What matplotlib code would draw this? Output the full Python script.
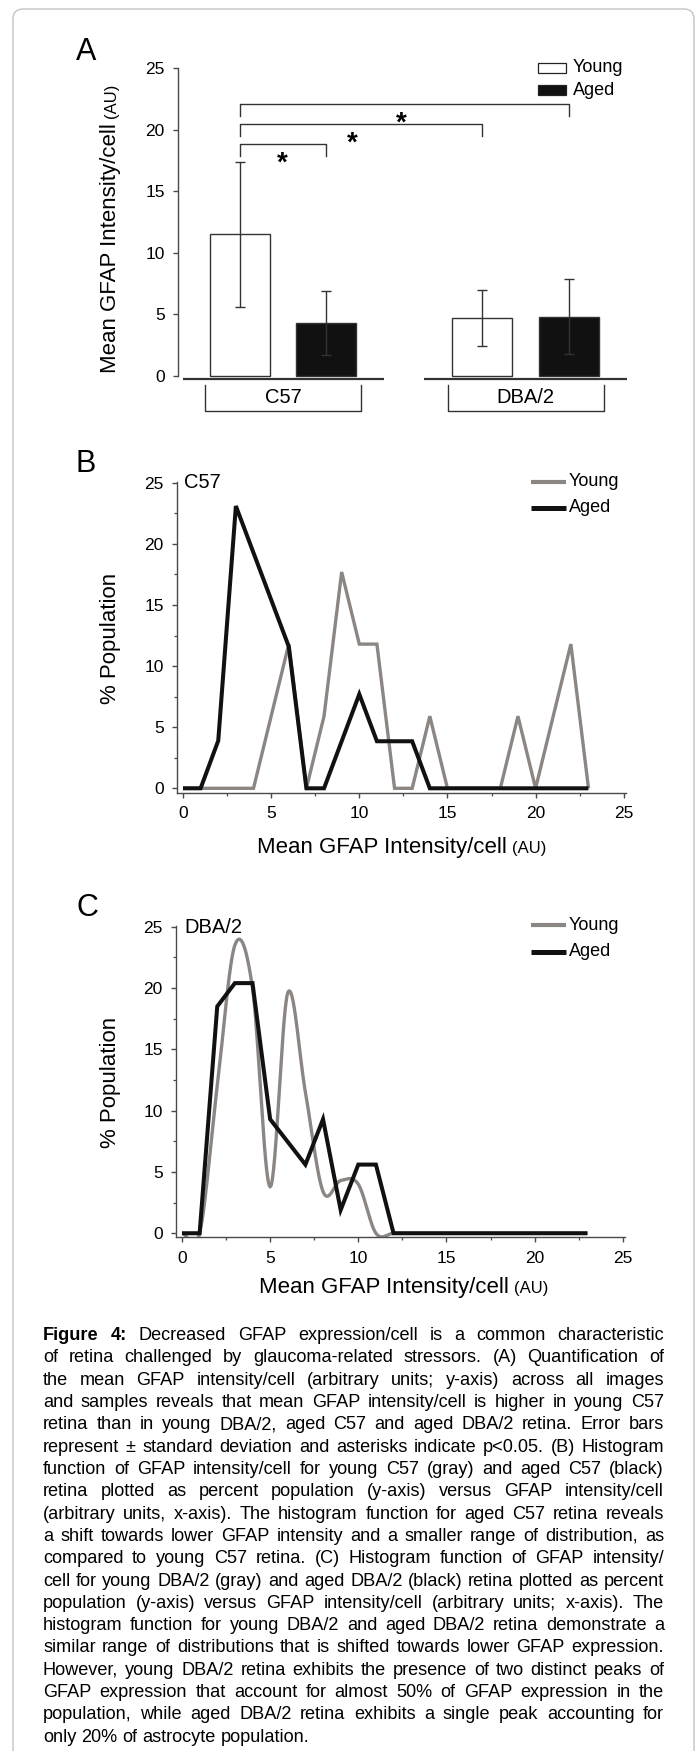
import numpy as np
import matplotlib
matplotlib.use('Agg')
import matplotlib.pyplot as plt
from matplotlib import font_manager
from matplotlib.patches import Rectangle, FancyBboxPatch
from matplotlib.lines import Line2D
from matplotlib.transforms import IdentityTransform

W, H = 695, 1751

# ---- panel A : mean GFAP intensity/cell ----
groups = ['C57', 'DBA/2']
ages = ['Young', 'Aged']
mean_gfap = [11.5, 4.25, 4.7, 4.8]      # young C57, aged C57, young DBA/2, aged DBA/2
sd_gfap = [5.9, 2.6, 2.3, 3.05]
sig_pairs = [(0, 1), (0, 2), (0, 3)]
sig_heights = [18.85, 20.5, 22.1]

# ---- panel B : C57 histogram ----
c57_young_x = [0, 4, 6, 7, 8, 9, 10, 11, 12, 13, 14, 15, 18, 19, 20, 22, 23]
c57_young_y = [0, 0, 11.8, 0, 5.9, 17.7, 11.8, 11.8, 0, 0, 5.9, 0, 0, 5.9, 0, 11.8, 0]
c57_aged_x = [0, 1, 2, 3, 6, 7, 8, 10, 11, 13, 14, 23]
c57_aged_y = [0, 0, 3.9, 23.1, 11.6, 0, 0, 7.7, 3.85, 3.85, 0, 0]

# ---- panel C : DBA/2 histogram ----
dba_young_x = [0, 1, 2, 3, 4, 5, 6, 7, 8, 9, 10, 11, 12, 13, 14, 15, 16, 17, 18, 19, 20, 21, 22, 23]
dba_young_y = [0, 0, 12, 23.5, 20, 3.8, 19.6, 11.5, 3.4, 4.3, 4.0, 0, 0, 0, 0, 0, 0, 0, 0, 0, 0, 0, 0, 0]
dba_aged_x = [0, 1, 2, 3, 4, 5, 7, 8, 9, 10, 11, 12, 23]
dba_aged_y = [0, 0, 18.5, 20.4, 20.4, 9.3, 5.6, 9.3, 1.9, 5.6, 5.6, 0, 0]

caption = [
    "Figure 4: Decreased GFAP expression/cell is a common characteristic",
    "of retina challenged by glaucoma-related stressors. (A) Quantification of",
    "the mean GFAP intensity/cell (arbitrary units; y-axis) across all images",
    "and samples reveals that mean GFAP intensity/cell is higher in young C57",
    "retina than in young DBA/2, aged C57 and aged DBA/2 retina. Error bars",
    "represent \u00b1 standard deviation and asterisks indicate p<0.05. (B) Histogram",
    "function of GFAP intensity/cell for young C57 (gray) and aged C57 (black)",
    "retina plotted as percent population (y-axis) versus GFAP intensity/cell",
    "(arbitrary units, x-axis). The histogram function for aged C57 retina reveals",
    "a shift towards lower GFAP intensity and a smaller range of distribution, as",
    "compared to young C57 retina. (C) Histogram function of GFAP intensity/",
    "cell for young DBA/2 (gray) and aged DBA/2 (black) retina plotted as percent",
    "population (y-axis) versus GFAP intensity/cell (arbitrary units; x-axis). The",
    "histogram function for young DBA/2 and aged DBA/2 retina demonstrate a",
    "similar range of distributions that is shifted towards lower GFAP expression.",
    "However, young DBA/2 retina exhibits the presence of two distinct peaks of",
    "GFAP expression that account for almost 50% of GFAP expression in the",
    "population, while aged DBA/2 retina exhibits a single peak accounting for",
    "only 20% of astrocyte population.",
]

GRAY = '#8c8683'
BLACK = '#111111'
AXC = '#4a4a4a'


def has_font(name):
    try:
        font_manager.findfont(name, fallback_to_default=False)
        return True
    except Exception:
        return False


MAIN_FONT = 'Liberation Sans' if has_font('Liberation Sans') else 'DejaVu Sans'
CAP_FONT = 'Liberation Sans Narrow' if has_font('Liberation Sans Narrow') else MAIN_FONT
plt.rcParams['font.family'] = [MAIN_FONT, 'DejaVu Sans']


def fx(x):
    return x / W


def fy(y):
    return 1 - y / H


def px_axes(left, top, right, bottom):
    return fig.add_axes([fx(left), fy(bottom), (right - left) / W, (bottom - top) / H])


def catmull(x, y, n=30):
    x = np.asarray(x, float)
    y = np.asarray(y, float)
    m = np.zeros_like(y)
    m[1:-1] = (y[2:] - y[:-2]) / 2
    m[0] = y[1] - y[0]
    m[-1] = y[-1] - y[-2]
    xs, ys = [], []
    t = np.linspace(0, 1, n, endpoint=False)
    for i in range(len(x) - 1):
        h00 = 2 * t**3 - 3 * t**2 + 1
        h10 = t**3 - 2 * t**2 + t
        h01 = -2 * t**3 + 3 * t**2
        h11 = t**3 - t**2
        xs.append(x[i] + t * (x[i + 1] - x[i]))
        ys.append(h00 * y[i] + h10 * m[i] + h01 * y[i + 1] + h11 * m[i + 1])
    xs.append([x[-1]])
    ys.append([y[-1]])
    return np.concatenate(xs), np.concatenate(ys)


fig = plt.figure(figsize=(W / 100, H / 100), dpi=100)
renderer = fig.canvas.get_renderer()

# outer frame
fig.add_artist(FancyBboxPatch((13, -40), 681, H - 9 + 40, boxstyle='round,pad=0,rounding_size=10',
                              transform=IdentityTransform(), facecolor='none', edgecolor='#c4c4c4', lw=1.0))

# panel letters
for lab, yb in [('A', 60), ('B', 472), ('C', 916)]:
    fig.text(fx(76), fy(yb), lab, fontsize=22, va='baseline', ha='left')


def label_with_au(x, y, main, rot):
    kw = dict(rotation=rot, rotation_mode='anchor', ha='left', va='baseline')
    t = fig.text(fx(x), fy(y), main, fontsize=16, **kw)
    bb = t.get_window_extent(renderer)
    if rot == 90:
        fig.text(fx(x), fy(y - bb.height - 5), '(AU)', fontsize=12, **kw)
    else:
        fig.text(fx(x + bb.width + 5), fy(y), '(AU)', fontsize=12, **kw)


# ================= panel A =================
bar_pos = [0, 1.42, 4.0, 5.44]
axA = px_axes(178, 68.3, 627, 379.4)
axA.set_xlim(-1.025, 6.397)
axA.set_ylim(-0.3, 25)
bar_colors = ['white', BLACK, 'white', BLACK]
axA.bar(bar_pos, mean_gfap, width=1.0, color=bar_colors, edgecolor='#333333', linewidth=1.0,
        yerr=sd_gfap, error_kw=dict(ecolor='#333333', elinewidth=1.0, capsize=3.6, capthick=1.0), zorder=2)
for s in ['top', 'right', 'bottom']:
    axA.spines[s].set_visible(False)
axA.spines['left'].set_bounds(0, 25)
axA.spines['left'].set_color(AXC)
axA.spines['left'].set_linewidth(1.0)
axA.set_yticks(range(0, 26, 5))
axA.set_xticks([])
axA.tick_params(axis='y', direction='out', length=3.6, width=1.0, color=AXC, labelsize=12.5, pad=6)

# broken baseline under the bars
axA.hlines(-0.3, -0.942, 2.38, color='#333333', lw=1.6, clip_on=False)
axA.hlines(-0.3, 3.04, 6.397, color='#333333', lw=1.6, clip_on=False)

# group brackets
for g, (i, j) in zip(groups, [(0, 1), (2, 3)]):
    c = (bar_pos[i] + bar_pos[j]) / 2
    axA.plot([c - 1.29, c - 1.29, c + 1.29, c + 1.29], [-0.76, -2.85, -2.85, -0.76],
             color='#333333', lw=1.0, clip_on=False)
    axA.text(c, -1.8, g, ha='center', va='center', fontsize=14.5)

# significance brackets
star_x = [0.70, 1.86, 2.66]
for (i, j), h, sx in zip(sig_pairs, sig_heights, star_x):
    xi, xj = bar_pos[i], bar_pos[j]
    axA.plot([xi, xi, xj, xj], [h - 1.0, h, h, h - 1.0], color='#333333', lw=1.0, clip_on=False)
    axA.annotate('*', xy=(sx, h - 0.9), xytext=(0, -11.5), textcoords='offset points',
                 ha='center', va='baseline', fontsize=20, fontweight='bold')

# legend A
for y, lab, c in zip([68, 90.5], ages, ['white', BLACK]):
    fig.add_artist(Rectangle((fx(538), fy(y + 5)), 28 / W, 10 / H, transform=fig.transFigure,
                             facecolor=c, edgecolor='#222222', lw=0.9))
    fig.text(fx(573), fy(y), lab, fontsize=13, va='center', ha='left')

label_with_au(116, 373, 'Mean GFAP Intensity/cell', 90)


# ================= panels B & C =================
def hist_panel(left, top, right, bottom, xlim, ylim, young, aged, smooth, tag, tag_base):
    ax = px_axes(left, top, right, bottom)
    yx, yy = young
    if smooth:
        yx, yy = catmull(yx, yy)
    ax.plot(yx, yy, color=GRAY, lw=2.4, solid_joinstyle='miter', solid_capstyle='butt', zorder=2)
    ax.plot(aged[0], aged[1], color=BLACK, lw=2.9, solid_joinstyle='miter', solid_capstyle='butt', zorder=3)
    ax.set_xlim(*xlim)
    ax.set_ylim(*ylim)
    for s in ['top', 'right']:
        ax.spines[s].set_visible(False)
    for s in ['left', 'bottom']:
        ax.spines[s].set_color(AXC)
        ax.spines[s].set_linewidth(1.0)
    ax.set_xticks(range(0, 26, 5))
    ax.set_xticks(np.arange(2.5, 25, 5), minor=True)
    ax.set_yticks(range(0, 26, 5))
    ax.set_yticks(np.arange(2.5, 25, 5), minor=True)
    ax.tick_params(which='major', direction='out', length=3.6, width=1.0, color=AXC, labelsize=12.5, pad=6)
    ax.tick_params(which='minor', direction='out', length=2.4, width=0.9, color=AXC)
    fig.text(fx(184), fy(tag_base), tag, fontsize=14.5, ha='left', va='baseline')
    return ax


hist_panel(177.0, 482.2, 625.5, 792.7, (-0.34, 25.1), (-0.36, 25.05),
           (c57_young_x, c57_young_y), (c57_aged_x, c57_aged_y), False, 'C57', 488)
hist_panel(176.0, 926.1, 624.5, 1237.3, (-0.34, 25.1), (-0.33, 25.05),
           (dba_young_x, dba_young_y), (dba_aged_x, dba_aged_y), True, 'DBA/2', 933)

for ys in [(481.7, 507.7), (925.0, 951.7)]:
    for y, lab, c, lw in zip(ys, ages, [GRAY, BLACK], [3.0, 3.6]):
        fig.add_artist(Line2D([fx(531), fx(566)], [fy(y), fy(y)], color=c, lw=lw,
                              solid_capstyle='butt', transform=fig.transFigure))
        fig.text(fx(569), fy(y), lab, fontsize=13, va='center', ha='left')

label_with_au(257, 853, 'Mean GFAP Intensity/cell', 0)
label_with_au(259, 1293, 'Mean GFAP Intensity/cell', 0)
for yc in [638, 1082]:
    fig.text(fx(116), fy(yc), '% Population', fontsize=16, rotation=90,
             rotation_mode='anchor', ha='center', va='baseline')


# ================= caption (justified) =================
def tokens(line, first):
    words = line.split(' ')
    out = []
    for k, w in enumerate(words):
        bold = first and k < 2
        out.append((w, 'bold' if bold else 'normal'))
    return out


def measure(s, size, weight):
    t = fig.text(0, 0, s, fontsize=size, fontweight=weight, family=[CAP_FONT, 'DejaVu Sans'])
    w = t.get_window_extent(renderer).width
    t.remove()
    return w


def natural_width(line, first, size):
    toks = tokens(line, first)
    sp = measure('a a', size, 'normal') - measure('aa', size, 'normal')
    return sum(measure(w, size, wt) for w, wt in toks) + sp * (len(toks) - 1)


cap_left, cap_right = 43, 664
box_w = cap_right - cap_left
widest = max(natural_width(l, i == 0, 10) for i, l in enumerate(caption))
cap_size = min(13.5, 10 * box_w / widest * 0.995)
space_w = measure('a a', cap_size, 'normal') - measure('aa', cap_size, 'normal')

for i, line in enumerate(caption):
    base = 1340 + 22.32 * i
    toks = tokens(line, i == 0)
    widths = [measure(w, cap_size, wt) for w, wt in toks]
    if i < len(caption) - 1 and len(toks) > 1:
        gap = (box_w - sum(widths)) / (len(toks) - 1)
    else:
        gap = space_w
    x = cap_left
    for (w, wt), ww in zip(toks, widths):
        fig.text(fx(x), fy(base), w, fontsize=cap_size, fontweight=wt, ha='left', va='baseline',
                 family=[CAP_FONT, 'DejaVu Sans'])
        x += ww + gap

fig.savefig('out.png', dpi=100)
